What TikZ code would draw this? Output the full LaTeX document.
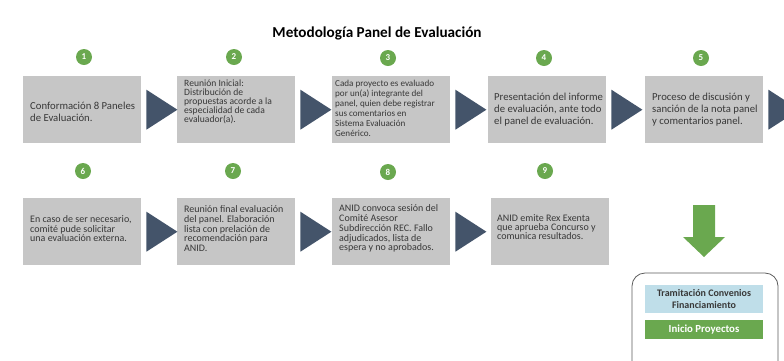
\documentclass[tikz,border=0pt]{standalone}
\usepackage{fontspec}
\setmainfont{Carlito}
\usetikzlibrary{calc}
\definecolor{boxgray}{HTML}{C6C6C6}
\definecolor{navy}{HTML}{44546A}
\definecolor{stepgreen}{HTML}{6AA84F}
\definecolor{lightblue}{HTML}{BFDEE9}
\definecolor{txt}{HTML}{383838}
\definecolor{frame}{HTML}{5A5A5A}
\begin{document}
\begin{tikzpicture}[x=1pt,y=-1pt,
  stepbox/.style={fill=boxgray, minimum width=118pt, minimum height=67pt, inner sep=0pt, anchor=north west},
  steptext/.style={anchor=west, align=left, inner sep=0pt, text=txt, font=\fontsize{10.7}{12}\selectfont},
  densetext/.style={steptext, font=\fontsize{9.6}{9}\selectfont},
  smalltext/.style={steptext, font=\fontsize{9.1}{10}\selectfont},
  lowtext/.style={steptext, font=\fontsize{10}{9.8}\selectfont},
  num/.style={circle, fill=stepgreen, text=white, font=\bfseries\fontsize{9}{9}\selectfont,
    minimum size=16pt, inner sep=0pt},
  chev/.style={fill=navy},
  endbox/.style={minimum width=118pt, inner sep=0pt, align=center, font=\bfseries\fontsize{10}{11.5}\selectfont}
]
\useasboundingbox (0,0) rectangle (784,360);
\clip (0,0) rectangle (784,360);

\node[font=\bfseries\fontsize{15.2}{17}\selectfont, text=black] (title) at (377,33) {Metodología Panel de Evaluación};

% row 1 boxes
\node[stepbox] (b1) at (23,76) {};
\node[stepbox] (b2) at (177,76) {};
\node[stepbox] (b3) at (332,76) {};
\node[stepbox] (b4) at (488,76) {};
\node[stepbox] (b5) at (645,76) {};
% row 2 boxes
\node[stepbox] (b6) at (23,198) {};
\node[stepbox] (b7) at (177,198) {};
\node[stepbox] (b8) at (332,198) {};
\node[stepbox] (b9) at (491,198) {};

% texts
\node[steptext] (t1) at ($(b1.west)+(7,2)$) {Conformación 8 Paneles\\de Evaluación.};
\node[densetext] (t2) at ($(b2.west)+(7,-8)$) {Reunión Inicial:\\Distribución de\\propuestas acorde a la\\especialidad de cada\\evaluador(a).};
\node[smalltext] (t3) at ($(b3.west)+(3,-1)$) {Cada proyecto es evaluado\\por un(a) integrante del\\panel, quien debe registrar\\sus comentarios en\\Sistema Evaluación\\Genérico.};
\node[steptext] (t4) at ($(b4.west)+(6,0)$) {Presentación del informe\\de evaluación, ante todo\\el panel de evaluación.};
\node[steptext] (t5) at ($(b5.west)+(7,0)$) {Proceso de discusión y\\sanción de la nota panel\\y comentarios panel.};
\node[lowtext] (t6) at ($(b6.west)+(7,-3)$) {En caso de ser necesario,\\comité pude solicitar\\una evaluación externa.};
\node[lowtext] (t7) at ($(b7.west)+(7,-3)$) {Reunión final evaluación\\del panel. Elaboración\\lista con prelación de\\recomendación para\\ANID.};
\node[lowtext] (t8) at ($(b8.west)+(7,-3)$) {ANID convoca sesión del\\Comité Asesor\\Subdirección REC. Fallo\\adjudicados, lista de\\espera y no aprobados.};
\node[lowtext, font=\fontsize{10}{9}\selectfont] (t9) at ($(b9.west)+(6,-5)$) {ANID emite Rex Exenta\\que aprueba Concurso y\\comunica resultados.};

% numbers
\node[num] (n1) at (84,57) {1};
\node[num] (n2) at (234,57) {2};
\node[num] (n3) at (388,58) {3};
\node[num] (n4) at (544,58) {4};
\node[num] (n5) at (701,58) {5};
\node[num] (n6) at (83,171) {6};
\node[num] (n7) at (233,171) {7};
\node[num] (n8) at (388,172) {8};
\node[num] (n9) at (545,171) {9};

% chevrons between boxes
\foreach \a in {b1,b2,b3,b4,b5,b6,b7,b8}{
  \fill[chev] ($(\a.east)+(5,-20)$) -- ++(31,20) -- ++(-31,20) -- cycle;
}

% green down arrow
\coordinate (gtop) at (704,205);
\fill[stepgreen] ($(gtop)+(-11,0)$) -- ++(22,0) -- ++(0,32) -- ++(10,0) -- (704,257) -- (683,237) -- ++(10,0) -- cycle;

% final frame
\draw[frame, line width=0.8pt, rounded corners=13pt] (632,273) rectangle (778,380);
\node[endbox, fill=lightblue, text=txt, minimum height=28pt] (conv) at (704,299) {Tramitación Convenios\\Financiamiento};
\node[endbox, fill=stepgreen, text=white, minimum height=19pt, font=\bfseries\fontsize{10.8}{12}\selectfont] (ini) at (704,329.5) {Inicio Proyectos};
\end{tikzpicture}
\end{document}
